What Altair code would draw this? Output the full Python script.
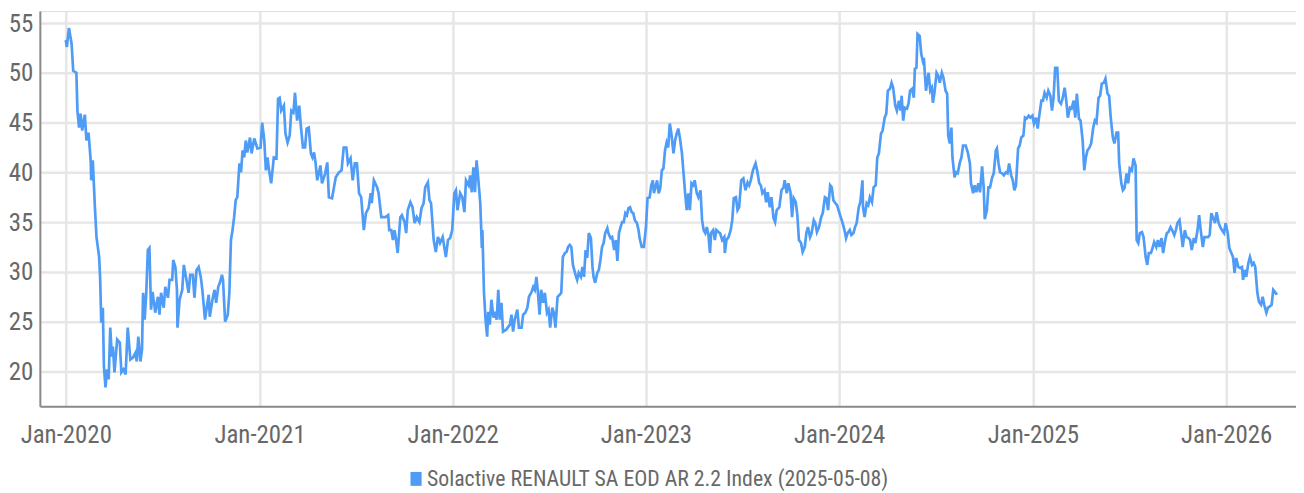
import altair as alt
import pandas as pd

series_name = "Solactive RENAULT SA EOD AR 2.2 Index (2025-05-08)"
start_date = "2020-01-01"

# days since 2020-01-01
day_offsets = [
    0, 2, 4, 6, 11, 14, 20, 22, 25, 28, 31, 36, 39, 43, 47, 48, 51, 55, 58, 63, 65, 67, 70, 72, 75, 78, 81, 84, 87, 89,
    92, 97, 102, 105, 109, 113, 117, 122, 127, 132, 134, 137, 141, 144, 146, 149, 152, 155, 158, 161, 164, 169, 174, 177,
    180, 185, 188, 193, 196, 201, 203, 207, 210, 211, 215, 220, 223, 227, 232, 235, 240, 243, 247, 251, 255, 258, 263,
    267, 270, 272, 277, 281, 284, 288, 291, 295, 297, 301, 306, 309, 312, 315, 318, 321, 324, 328, 331, 334, 337, 340,
    343, 348, 351, 356, 362, 368, 371, 375, 378, 381, 384, 388, 393, 398, 401, 404, 407, 412, 415, 419, 423, 426, 430,
    433, 437, 441, 444, 448, 452, 455, 459, 463, 466, 469, 472, 475, 478, 481, 484, 490, 494, 497, 503, 510, 516,
    521, 525, 530, 533, 538, 542, 546, 550, 554, 558, 563, 567, 572, 576, 578, 582, 588, 591, 596, 604, 609, 611, 615,
    618, 621, 624, 627, 632, 635, 640, 643, 646, 651, 655, 659, 663, 668, 672, 676, 679, 684, 687, 690, 695, 699, 703,
    707, 712, 715, 718, 722, 726, 730, 734, 737, 740, 745, 749, 753, 756, 761, 764, 767, 770, 773, 776, 779, 783, 786,
    787, 790, 793, 796, 798, 801, 804, 808, 811, 814, 817, 820, 823, 826, 832, 839, 842, 845, 848, 853, 856, 861, 864,
    868, 872, 875, 880, 883, 886, 889, 892, 895, 898, 902, 905, 909, 912, 915, 919, 922, 925, 929, 933, 936, 939, 943,
    946, 949, 952, 955, 958, 963, 966, 969, 973, 976, 979, 982, 985, 988, 992, 995, 997, 1000, 1004, 1007, 1010, 1013,
    1016, 1019, 1023, 1025, 1029, 1032, 1036, 1039, 1042, 1045, 1048, 1051, 1054, 1057, 1060, 1063, 1066, 1069, 1072,
    1075, 1079, 1082, 1084, 1088, 1092, 1096, 1099, 1103, 1106, 1109, 1111, 1114, 1117, 1120, 1123, 1126, 1129, 1132,
    1135, 1138, 1141, 1144, 1148, 1151, 1154, 1157, 1160, 1164, 1167, 1170, 1173, 1176, 1179, 1182, 1185, 1188, 1192,
    1195, 1199, 1202, 1205, 1208, 1211, 1214, 1217, 1219, 1223, 1226, 1229, 1233, 1236, 1240, 1244, 1245, 1248, 1252,
    1256, 1259, 1262, 1266, 1269,
    1272, 1276, 1280, 1284, 1288, 1291, 1294, 1298, 1303, 1306, 1310, 1313, 1316, 1320, 1323, 1326, 1330, 1333, 1337,
    1340, 1343, 1348, 1352, 1356, 1358, 1362, 1365, 1369, 1372, 1375, 1379, 1382, 1385, 1389, 1392, 1396, 1399, 1402,
    1406, 1409, 1413, 1416, 1419, 1423, 1427, 1430, 1434, 1437, 1440, 1444, 1447, 1450, 1454, 1457, 1461, 1464, 1467,
    1471, 1474, 1477, 1481, 1484, 1488, 1491, 1494, 1498, 1501, 1505, 1506, 1509, 1513, 1516, 1519, 1523, 1526, 1530,
    1533, 1536, 1540, 1543, 1547, 1550, 1553, 1557, 1560, 1563, 1567, 1570, 1574, 1577, 1579, 1582, 1585, 1589, 1592,
    1595, 1599, 1602, 1604, 1607, 1609, 1613, 1616, 1619, 1621, 1625, 1627, 1630, 1633, 1636, 1638, 1641, 1645, 1648,
    1651, 1655, 1658, 1662, 1665, 1667, 1670, 1673, 1675, 1679, 1682, 1685, 1689, 1692, 1695, 1700, 1704, 1708, 1710,
    1714, 1717, 1720, 1724, 1727, 1731, 1734, 1736, 1740, 1743, 1746, 1750, 1753, 1757, 1759, 1762, 1765, 1769, 1772,
    1776, 1779, 1782, 1786, 1789, 1792, 1795, 1799, 1802, 1805, 1809, 1812, 1815, 1819, 1822, 1826, 1829, 1833, 1836,
    1839, 1843, 1846, 1849, 1853, 1856, 1860, 1863, 1866, 1869, 1873, 1876, 1880, 1883, 1887, 1890, 1893, 1897, 1900,
    1904, 1907, 1910, 1914, 1917, 1921, 1924, 1927, 1930, 1934, 1937, 1941, 1944, 1947, 1951, 1954, 1957, 1961, 1964,
    1968, 1971, 1974, 1978, 1981, 1985, 1988, 1990, 1994, 1997, 2000, 2004, 2007, 2010, 2014, 2017, 2021, 2023, 2026,
    2029, 2033, 2036, 2040, 2043, 2046, 2050, 2053, 2056, 2060, 2063, 2066, 2070, 2073, 2077, 2080, 2083, 2087, 2090,
    2094, 2097, 2100, 2104, 2107, 2110, 2114, 2117, 2121, 2124, 2127, 2131, 2134, 2138, 2141, 2144, 2148, 2151, 2155,
    2158, 2161, 2164, 2167, 2171, 2174, 2178, 2181, 2184, 2188, 2191, 2195, 2198, 2201, 2205, 2208, 2211, 2215, 2218,
    2222, 2224, 2227, 2230, 2234, 2237, 2241, 2244, 2247, 2251, 2254, 2258, 2261, 2264, 2268, 2271, 2274, 2278, 2281,
    2284, 2288,
]

index_values = [
    53.3, 52.6, 53.6, 54.5, 52.9, 50.2, 50.0, 46.2, 44.5, 45.9, 44.2, 45.8, 43.2, 44.0, 41.2, 39.2, 41.2, 36.5, 33.5, 31.5,
    29.2, 24.9, 26.4, 20.5, 18.4, 20.2, 19.2, 24.4, 21.5, 22.5,
    19.9, 23.2, 22.9, 19.9, 20.2, 19.7, 24.4, 21.2, 21.4, 21.9, 21.0, 23.5, 21.0, 22.2, 27.9, 25.2, 27.9, 32.2, 32.4, 26.2,
    28.0, 25.9, 27.5, 25.7,
    27.9, 26.4, 28.5, 27.4, 29.2, 29.2, 31.2, 30.5, 28.2, 24.4, 27.2, 28.2, 30.7, 29.5, 27.9, 29.7, 29.7, 27.4, 30.2,
    30.5, 29.5, 28.2, 25.2,
    26.7, 27.7, 25.5, 27.2, 28.2, 26.9, 28.5, 28.9, 29.7, 29.2, 25.0, 25.7, 27.9, 33.2, 34.2, 35.5, 37.2, 37.5, 40.9,
    40.0, 42.2, 41.5, 43.2,
    42.0, 43.5, 41.9, 43.4, 42.4, 42.5, 45.0, 43.2, 40.2, 41.5, 40.2, 38.9, 41.5, 41.4, 47.4, 47.5, 46.2, 46.7, 43.9,
    43.0, 43.7, 46.2, 46.0,
    48.0, 45.2, 46.7, 44.7, 42.5, 42.5, 44.4, 44.5, 41.9, 41.5, 42.0, 40.9, 39.2, 39.9, 40.7, 38.9, 39.9, 41.0, 37.5,
    37.4, 39.5, 40.0,
    40.2, 42.5, 42.5, 40.9, 41.4, 39.2, 40.9, 40.9, 37.9, 37.5, 34.2, 35.9, 36.4, 37.9, 36.9, 39.2, 38.5, 37.9, 35.5,
    35.5, 35.7, 34.2, 34.2,
    33.2, 34.2, 33.2, 31.9, 35.5, 35.7, 35.0, 33.9, 36.2, 37.0, 36.5, 34.9, 35.5, 35.0, 36.4, 36.9, 38.5, 39.0, 37.2,
    36.9, 33.2, 32.0, 33.5,
    32.9, 33.5, 32.5, 31.5, 33.2, 33.4, 34.2, 37.9, 38.2, 36.2, 37.9, 37.5, 36.0, 39.2, 38.7, 39.7, 38.0, 40.5, 38.0,
    41.2, 39.5, 36.9, 32.4,
    34.2, 27.9, 25.2, 23.5, 26.0, 24.7, 27.2, 25.4, 26.0, 25.2, 28.2, 25.2, 26.9, 24.0, 24.2, 24.7, 25.7, 24.0, 25.2,
    26.2, 24.4, 24.4, 25.7,
    25.9, 26.4, 27.5, 28.0, 28.5, 28.2, 29.5, 27.9, 25.7, 28.2, 26.9, 27.9, 25.9, 26.2, 24.4, 26.4, 25.9, 24.4, 27.5,
    27.7, 27.9, 31.5, 31.9,
    32.0, 32.5, 32.7, 32.5, 30.7, 29.7, 29.2, 29.9, 29.5, 30.5, 29.5, 32.2, 31.4, 33.9, 33.4, 30.5, 29.5, 28.9, 29.9,
    30.2, 31.2, 32.5,
    32.9, 33.9, 34.4, 33.9, 33.4, 33.5, 32.2, 33.2, 31.1, 33.9, 34.5, 35.0, 35.0, 35.9, 35.7, 36.4, 36.5, 36.0, 35.9,
    35.2, 34.9, 34.2, 33.4, 32.5, 32.5, 34.5, 37.4, 37.5, 38.7, 39.2, 37.9, 38.5, 39.2, 37.9, 38.4, 40.2, 40.4, 42.2,
    43.0, 42.5, 44.9, 43.9, 41.9, 43.2, 43.9, 44.4, 43.5, 41.9, 39.9, 37.9, 36.2, 37.9, 36.2, 38.9, 38.7, 39.2, 37.9,
    37.5, 38.2, 35.2, 34.2, 33.9, 34.5, 33.7, 31.9, 33.9, 34.2, 33.2, 34.2, 34.0, 33.9, 33.2, 33.5, 31.9, 33.2, 33.5,
    34.2, 35.2, 37.4, 37.5, 36.2,
    36.5, 39.2, 39.4, 38.2, 39.0, 38.7, 39.2, 40.2, 40.9, 40.2, 38.9, 38.7, 37.9, 38.2, 37.0, 38.0, 36.5, 37.5, 35.4,
    35.0, 36.2, 36.5, 38.2, 38.5, 39.2, 37.9, 38.9, 38.0, 35.5, 37.4, 37.0, 35.7, 33.2, 32.9, 32.0, 32.5, 33.9, 34.5,
    33.5, 33.9, 35.2, 34.9, 34.0, 34.5, 35.5, 35.9, 37.5, 37.4, 36.2, 38.7, 38.5, 37.2, 36.9, 36.7, 36.0, 35.5, 35.0,
    34.2, 33.4, 33.9, 34.2, 33.7, 33.9, 34.5, 34.9, 36.5, 37.0, 39.2, 36.5, 35.5, 36.9, 36.7, 37.5, 37.0, 38.5, 38.7,
    41.5, 41.9, 43.9, 44.2, 45.5, 45.9, 48.2, 48.4, 49.0, 48.5, 46.7, 46.2, 47.2, 46.2, 47.7, 45.2, 46.5, 46.4, 46.9,
    48.2, 48.4, 47.5, 50.4, 50.5, 53.9, 53.7, 51.9, 51.2, 51.5, 48.2, 49.0, 50.0, 48.2, 48.5, 47.0, 48.0, 50.0, 49.7,
    49.0, 50.0, 49.5, 48.2, 47.9, 43.7, 42.9, 44.5, 41.5, 39.5, 40.0, 39.9, 41.0, 41.5, 42.7, 42.7, 42.0, 40.9, 38.9,
    37.9, 38.7, 38.0, 38.9, 38.0, 40.6, 38.5, 35.3, 36.2, 38.5, 38.5, 39.5, 39.9, 42.2, 42.4, 40.9, 40.0, 39.9, 39.7,
    40.0, 39.9, 40.9, 39.7, 39.2, 38.2, 38.7, 42.4, 42.7, 43.5, 43.7, 45.5, 45.4, 45.7, 45.5, 45.7, 44.9, 45.5, 44.4,
    45.7, 47.2, 47.2, 48.0, 47.5, 48.2, 47.7, 46.2, 47.5, 50.5, 50.5, 47.2, 46.9, 47.4, 48.5, 47.2, 45.5, 46.5, 46.4,
    47.2, 45.5, 47.9, 45.4, 45.2, 43.2, 40.2, 41.5, 42.2, 42.5, 42.9, 44.5, 45.2, 45.0, 47.5, 47.7, 48.9, 49.0, 49.4,
    47.9, 47.7, 45.5, 43.5, 42.9, 44.0, 44.0, 40.9, 38.9, 38.2, 38.4, 39.9, 38.9, 40.4, 40.2, 41.4, 40.7, 33.2, 32.9,
    33.9, 34.0, 33.5, 31.5, 30.7, 31.9, 31.9, 32.4, 33.0, 32.5, 33.2, 32.5, 33.4, 31.9, 33.2, 33.9, 34.0, 34.5, 34.2,
    33.7, 34.2, 34.9, 35.2, 33.9, 32.5, 34.2, 33.5, 33.4, 33.2, 32.2, 33.4, 32.9, 34.2, 35.7, 34.2, 32.5, 33.5, 33.5,
    33.5, 33.7, 35.9, 35.5, 34.9, 36.0, 34.9, 34.5, 34.2, 33.9, 34.9, 33.9, 32.4, 32.0, 31.5, 29.9, 31.4, 30.5, 30.4,
    30.5, 29.2, 30.2, 29.5, 30.9, 31.5, 30.7, 30.9, 30.5, 27.9, 27.0, 26.7, 27.5, 26.7, 25.9, 26.4, 26.5, 26.7, 28.2,
    28.0, 27.7,
]

y_ticks = [20, 25, 30, 35, 40, 45, 50, 55]
x_tick_years = [2020, 2021, 2022, 2023, 2024, 2025, 2026]

n = min(len(day_offsets), len(index_values))
dates = (pd.Timestamp(start_date) + pd.to_timedelta(day_offsets[:n], unit="D")).strftime("%Y-%m-%d")
df = pd.DataFrame({"date": dates, "value": index_values[:n], "series": series_name})

FONT = "Liberation Sans Narrow, Roboto Condensed, DejaVu Sans Condensed, Arial Narrow, sans-serif"
LABEL_COLOR = "#686868"
LINE_COLOR = "#4f9cf7"

chart = (
    alt.Chart(df)
    .mark_line(strokeWidth=2.7, interpolate="linear")
    .encode(
        x=alt.X(
            "date:T",
            scale=alt.Scale(
                type="utc",
                domain=[
                    alt.DateTime(year=2019, month=11, date=13, utc=True),
                    alt.DateTime(year=2026, month=5, date=13, utc=True),
                ],
            ),
            axis=alt.Axis(
                title=None,
                values=[alt.DateTime(year=y, month=1, date=1, utc=True) for y in x_tick_years],
                format="%b-%Y",
                labelFont=FONT,
                labelFontSize=25,
                labelColor=LABEL_COLOR,
                labelPadding=16,
                ticks=False,
                tickSize=0,
                domainColor="#8a8a8a",
                domainWidth=2,
                grid=True,
                gridColor="#e6e6e6",
                gridWidth=2.5,
                labelFlush=False,
                labelOverlap=False,
            ),
        ),
        y=alt.Y(
            "value:Q",
            scale=alt.Scale(domain=[16.5, 56.2], nice=False, zero=False),
            axis=alt.Axis(
                title=None,
                values=y_ticks,
                labelFont=FONT,
                labelFontSize=25,
                labelColor=LABEL_COLOR,
                labelPadding=7,
                ticks=False,
                tickSize=0,
                domainColor="#8a8a8a",
                domainWidth=2,
                grid=True,
                gridColor="#e6e6e6",
                gridWidth=2.5,
                minExtent=32,
                maxExtent=32,
                labelOverlap=False,
            ),
        ),
        color=alt.Color(
            "series:N",
            scale=alt.Scale(range=[LINE_COLOR]),
            legend=alt.Legend(
                title=None,
                orient="none",
                legendX=367,
                legendY=459,
                padding=0,
                symbolType="M-0.8,-1L0.8,-1L0.8,1L-0.8,1Z",
                symbolSize=196,
                symbolFillColor=LINE_COLOR,
                symbolStrokeWidth=0,
                labelFont=FONT,
                labelFontSize=21.9,
                labelColor=LABEL_COLOR,
                labelOffset=0,
                labelLimit=1000,
            ),
        ),
    )
    .properties(
        width=1262,
        height=397,
        padding={"left": 0, "top": 2, "right": 0, "bottom": 0},
    )
    .configure_view(stroke=None)
    .configure(background="white")
)

chart.save("out.html", embed_options={"renderer": "svg", "actions": False})
